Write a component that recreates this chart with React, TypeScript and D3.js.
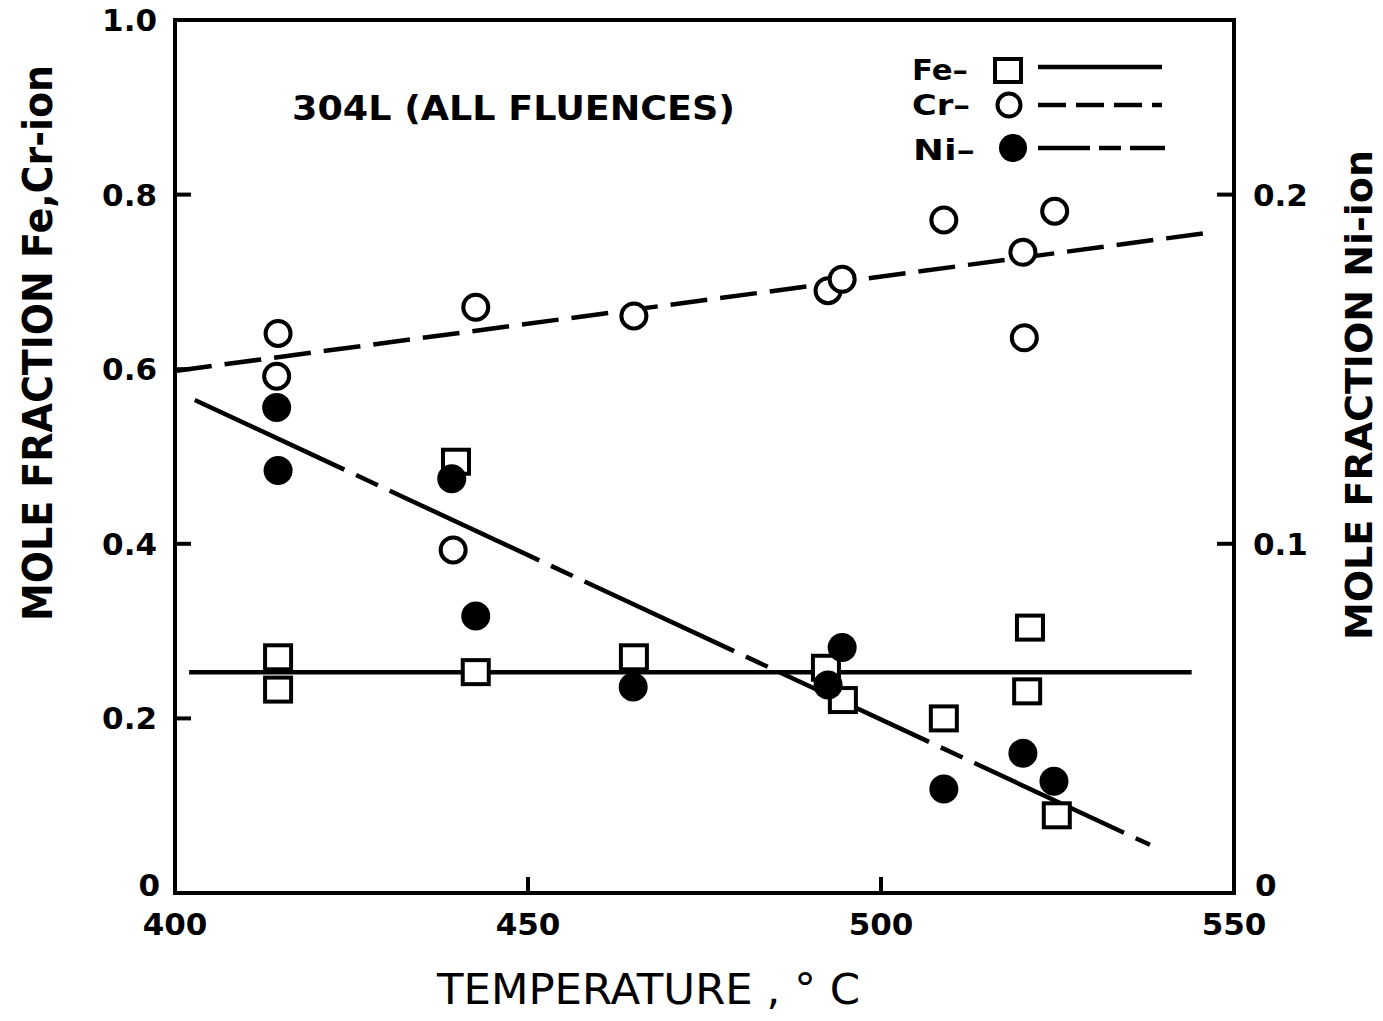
import React from "react";
import * as d3 from "d3";

// temperature axis (deg C) and tick labels
const tempTicks = [400, 450, 500, 550];
const leftTicks = [0, 0.2, 0.4, 0.6, 0.8, 1.0];
const leftTickLabels = ["0", "0.2", "0.4", "0.6", "0.8", "1.0"];
const rightTicks = [0, 0.1, 0.2];
const rightTickLabels = ["0", "0.1", "0.2"];

// Fe (open squares), left axis
const feTemp = [414.6, 414.6, 439.8, 442.6, 465, 492.2, 494.6, 508.9, 521.1, 520.7, 524.9];
const feVal = [0.27, 0.233, 0.494, 0.253, 0.27, 0.258, 0.221, 0.2, 0.304, 0.231, 0.089];

// Cr (open circles), left axis
const crTemp = [414.6, 414.4, 439.4, 442.6, 465, 492.5, 494.5, 508.9, 520.1, 520.3, 524.6];
const crVal = [0.641, 0.592, 0.393, 0.671, 0.661, 0.69, 0.703, 0.771, 0.734, 0.636, 0.781];

// Ni (filled circles), right axis
const niTemp = [414.4, 414.6, 439.2, 442.6, 464.9, 492.5, 494.5, 508.9, 520.1, 524.5];
const niVal = [0.139, 0.121, 0.1186, 0.0793, 0.059, 0.0596, 0.0703, 0.0298, 0.04, 0.032];

// fitted lines (end points)
const feFitT = [402, 544];
const feFitV = [0.253, 0.253];
const crFitT = [400, 547];
const crFitV = [0.598, 0.757];
const niFitT = [402.8, 538.1];
const niFitV = [0.1412, 0.0138];

const W = 1383;
const H = 1021;
const left = 175;
const right = 1234;
const top = 20;
const bottom = 893;

const FONT = "'DejaVu Sans', sans-serif";
const CR_DASH = "37,13";
const NI_DASH = "165,13,24,13";

function App() {
  const x = d3.scaleLinear().domain([400, 550]).range([left, right]);
  const yL = d3.scaleLinear().domain([0, 1]).range([bottom, top]);
  const yR = d3.scaleLinear().domain([0, 0.25]).range([bottom, top]);

  // path through the end points of a fitted line
  const fitPath = (ts: number[], vs: number[], y: d3.ScaleLinear<number, number>) =>
    d3
      .line<number>()
      .x((t) => x(t))
      .y((_, i) => y(vs[i]))(ts) as string;

  return (
    <svg
      width={W}
      height={H}
      style={{ position: "absolute", left: 0, top: 0, background: "#fff" }}
    >
      {/* frame */}
      <rect
        x={left}
        y={top}
        width={right - left}
        height={bottom - top}
        fill="none"
        stroke="#000"
        strokeWidth={4}
      />

      {/* left ticks */}
      {leftTicks.map((v, i) => (
        <g key={"lt" + i}>
          {i > 0 && i < leftTicks.length - 1 && (
            <line x1={left} x2={left + 16} y1={yL(v)} y2={yL(v)} stroke="#000" strokeWidth={4} />
          )}
          <text
            x={i === 0 ? 160 : 157}
            y={yL(v) + (i === 0 ? 3 : 11)}
            textAnchor="end"
            fontFamily={FONT}
            fontWeight="bold"
            fontSize={31}
          >
            {leftTickLabels[i]}
          </text>
        </g>
      ))}

      {/* right ticks */}
      {rightTicks.map((v, i) => (
        <g key={"rt" + i}>
          {i > 0 && (
            <line x1={right - 17} x2={right} y1={yR(v)} y2={yR(v)} stroke="#000" strokeWidth={4} />
          )}
          <text
            x={i === 0 ? 1255 : 1253}
            y={yR(v) + (i === 0 ? 3 : 11)}
            textAnchor="start"
            fontFamily={FONT}
            fontWeight="bold"
            fontSize={31}
          >
            {rightTickLabels[i]}
          </text>
        </g>
      ))}

      {/* x ticks */}
      {tempTicks.map((t, i) => (
        <g key={"xt" + i}>
          {i > 0 && i < tempTicks.length - 1 && (
            <line x1={x(t)} x2={x(t)} y1={bottom} y2={bottom - 16} stroke="#000" strokeWidth={4} />
          )}
          <text
            x={x(t)}
            y={935}
            textAnchor="middle"
            fontFamily={FONT}
            fontWeight="bold"
            fontSize={31}
          >
            {t}
          </text>
        </g>
      ))}

      {/* axis titles */}
      <text
        x={437}
        y={1004}
        fontFamily={FONT}
        fontSize={42}
        textLength={423}
        lengthAdjust="spacingAndGlyphs"
      >
        TEMPERATURE , ° C
      </text>
      <text
        transform="translate(52,621) rotate(-90)"
        fontFamily={FONT}
        fontWeight="bold"
        fontSize={40}
        textLength={556}
        lengthAdjust="spacingAndGlyphs"
      >
        MOLE FRACTION Fe,Cr-ion
      </text>
      <text
        transform="translate(1372,640) rotate(-90)"
        fontFamily={FONT}
        fontWeight="bold"
        fontSize={38}
        textLength={490}
        lengthAdjust="spacingAndGlyphs"
      >
        MOLE FRACTION Ni-ion
      </text>

      {/* annotation */}
      <text
        x={292}
        y={120}
        fontFamily={FONT}
        fontWeight="bold"
        fontSize={33}
        textLength={443}
        lengthAdjust="spacingAndGlyphs"
      >
        304L (ALL FLUENCES)
      </text>

      {/* fitted lines */}
      <path d={fitPath(feFitT, feFitV, yL)} fill="none" stroke="#000" strokeWidth={4.5} />
      <path
        d={fitPath(crFitT, crFitV, yL)}
        fill="none"
        stroke="#000"
        strokeWidth={4.5}
        strokeDasharray={CR_DASH}
      />
      <path
        d={fitPath(niFitT, niFitV, yR)}
        fill="none"
        stroke="#000"
        strokeWidth={4.5}
        strokeDasharray={NI_DASH}
      />

      {/* Fe squares */}
      {feTemp.map((t, i) => (
        <rect
          key={"fe" + i}
          x={x(t) - 13}
          y={yL(feVal[i]) - 12}
          width={26}
          height={24}
          fill="#fff"
          stroke="#000"
          strokeWidth={4}
        />
      ))}

      {/* Cr open circles */}
      {crTemp.map((t, i) => (
        <circle
          key={"cr" + i}
          cx={x(t)}
          cy={yL(crVal[i])}
          r={12.5}
          fill="#fff"
          stroke="#000"
          strokeWidth={4}
        />
      ))}

      {/* Ni filled circles */}
      {niTemp.map((t, i) => (
        <circle key={"ni" + i} cx={x(t)} cy={yR(niVal[i])} r={14.5} fill="#000" />
      ))}

      {/* legend */}
      <g fontFamily={FONT} fontWeight="bold" fontSize={29}>
        <text x={912} y={80} textLength={56} lengthAdjust="spacingAndGlyphs">
          Fe–
        </text>
        <rect x={995} y={59} width={26} height={23} fill="#fff" stroke="#000" strokeWidth={4} />
        <line x1={1038} x2={1162} y1={67} y2={67} stroke="#000" strokeWidth={4.5} />

        <text x={912} y={115} textLength={58} lengthAdjust="spacingAndGlyphs">
          Cr–
        </text>
        <circle cx={1009} cy={105} r={11.5} fill="#fff" stroke="#000" strokeWidth={4} />
        <line
          x1={1038}
          x2={1162}
          y1={105}
          y2={105}
          stroke="#000"
          strokeWidth={4.5}
          strokeDasharray="28,10"
        />

        <text x={913} y={160} textLength={62} lengthAdjust="spacingAndGlyphs">
          Ni–
        </text>
        <circle cx={1013} cy={148} r={14} fill="#000" />
        <line
          x1={1038}
          x2={1165}
          y1={148}
          y2={148}
          stroke="#000"
          strokeWidth={4.5}
          strokeDasharray="52,9,22,9"
        />
      </g>
    </svg>
  );
}

export default App;
